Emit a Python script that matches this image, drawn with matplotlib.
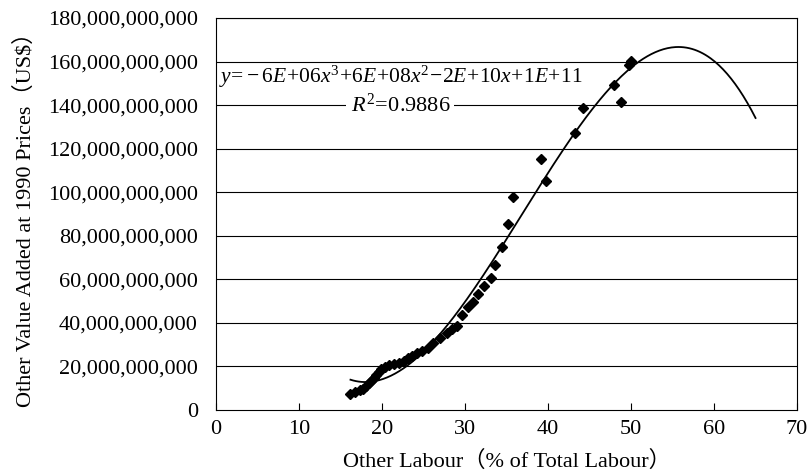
import numpy as np
import matplotlib
matplotlib.use("Agg")
import matplotlib.pyplot as plt
import matplotlib.ticker as mticker

plt.rcParams.update({
    "font.family": ["Liberation Serif", "Noto Sans CJK SC"],
    "mathtext.fontset": "custom",
    "mathtext.rm": "Liberation Serif",
    "mathtext.it": "Liberation Serif:italic",
    "font.size": 16,
})

# other labour share (% of total labour) and other value added (billion US$, 1990 prices)
labour_pct = [16.2, 16.8, 17.3, 17.7, 18.1, 18.4, 18.7, 19.0, 19.3, 19.6,
              19.9, 20.3, 20.8, 21.4, 22.0, 22.6, 23.1, 23.6, 24.2, 24.8,
              25.5, 26.2, 27.0, 27.8, 28.4, 29.0, 29.6, 30.3, 31.0, 31.6,
              32.3, 33.1, 33.6, 34.5, 35.2, 35.8, 39.2, 39.8, 43.2, 44.2,
              48.0, 48.8, 49.7, 50.0]
value_added_bn = [7.5, 8.3, 9.0, 9.8, 11.0, 12.2, 13.5, 14.8, 16.0, 17.3,
                  18.6, 19.7, 20.5, 21.0, 21.6, 22.6, 23.7, 24.8, 26.0, 26.9,
                  28.5, 30.6, 33.0, 35.5, 37.2, 38.5, 43.6, 47.2, 49.5, 53.3,
                  57.1, 60.7, 66.6, 74.7, 85.4, 97.7, 115.2, 105.3, 127.0, 138.5,
                  149.2, 141.3, 158.4, 160.4]

x = np.array(labour_pct)
y = np.array(value_added_bn) * 1e9

# cubic trend line, extended forward to 65%
coef = np.polyfit(x, y, 3)
xs = np.linspace(x.min(), 65, 300)
ys = np.polyval(coef, xs)

fig = plt.figure(figsize=(8.1, 4.76), dpi=100)
ax = fig.add_axes([0.2667, 0.1387, 0.7173, 0.8235])

for yv in np.arange(20e9, 181e9, 20e9):
    ax.axhline(yv, color="black", lw=0.8, zorder=1)

ax.plot(xs, ys, color="black", lw=1.3, zorder=2)
ax.plot(x, y, "D", color="black", markersize=5.5, zorder=3)

ax.set_xlim(0, 70)
ax.set_ylim(0, 180e9)
ax.set_xticks(range(0, 71, 10))
ax.set_yticks(np.arange(0, 181e9, 20e9))
ax.yaxis.set_major_formatter(mticker.FuncFormatter(lambda v, p: f"{v:,.0f}"))
ax.tick_params(axis="x", direction="in", length=5, width=0.8, pad=7)
ax.tick_params(axis="y", direction="in", length=0, pad=13)
for s in ax.spines.values():
    s.set_linewidth(0.8)
    s.set_color("black")

ax.set_xlabel("Other Labour（% of Total Labour）", labelpad=9)
ax.set_ylabel("Other Value Added at 1990 Prices（US$）", labelpad=9)

eq = r"$y\!=\!-6E\!+\!06x^3\!+\!6E\!+\!08x^2\!-\!2E\!+\!10x\!+\!1E\!+\!11$"
ax.text(22.2, 153e9, eq, fontsize=15.5, ha="center", va="center")
ax.text(22.2, 140e9, r"$R^2\!=\!0.9886$", fontsize=16, ha="center", va="center",
        bbox=dict(facecolor="white", edgecolor="none", pad=3))

fig.savefig("out.png")
